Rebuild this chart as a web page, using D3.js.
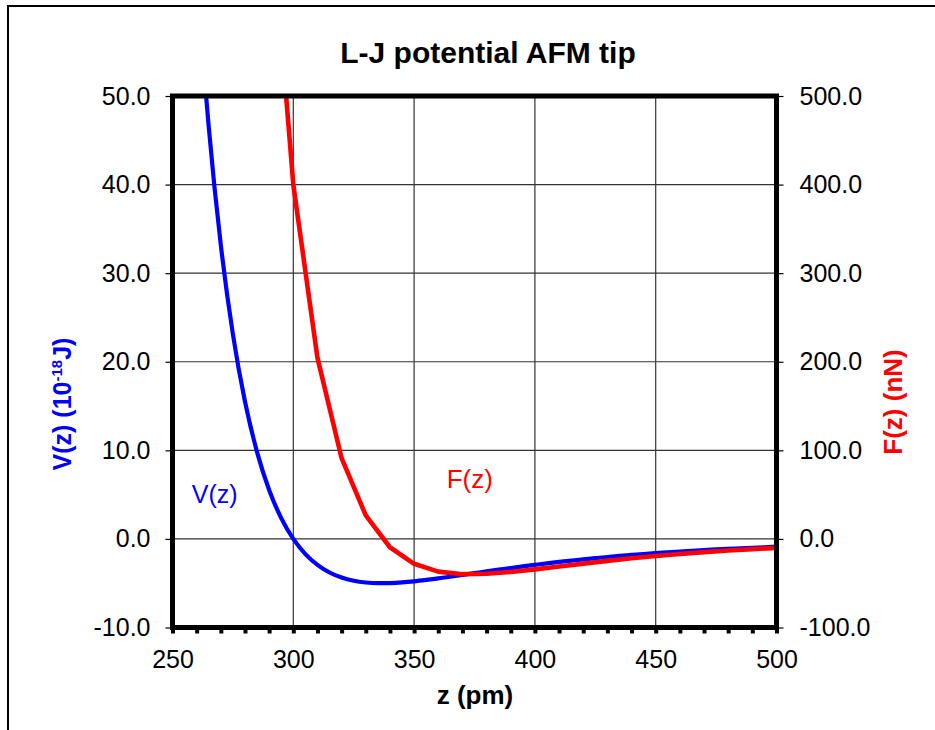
<!DOCTYPE html>
<html>
<head>
<meta charset="utf-8">
<script src="https://cdn.jsdelivr.net/npm/d3@7"></script>
<style>
  body { margin: 0; background: #fff; }
  svg { display: block; font-family: "Liberation Sans", Arial, sans-serif; }
  .tick text { fill: #000; }
</style>
</head>
<body>
<div id="chart"></div>
<script>
// z positions (pm) and values
const zFine = [250, 255, 260, 265, 270, 275, 280, 285, 290, 295,
               300, 305, 310, 315, 320, 325, 330, 335, 340, 345,
               350, 355, 360, 365, 370, 375, 380, 385, 390, 395,
               400, 405, 410, 415, 420, 425, 430, 435, 440, 445,
               450, 455, 460, 465, 470, 475, 480, 485, 490, 495, 500];
// V(z) in 1e-18 J
const vValues = [118.6, 87.58, 64.18, 46.52, 33.18, 23.11, 15.51, 9.80, 5.53, 2.35,
                 0.00, -1.71, -2.93, -3.79, -4.36, -4.72, -4.92, -5.00, -4.98, -4.91,
                 -4.79, -4.63, -4.45, -4.27, -4.07, -3.87, -3.67, -3.47, -3.29, -3.10,
                 -2.93, -2.76, -2.60, -2.45, -2.30, -2.17, -2.04, -1.92, -1.81, -1.70,
                 -1.60, -1.51, -1.42, -1.34, -1.26, -1.19, -1.12, -1.06, -1.00, -0.94, -0.89];

const zCoarse = [250, 260, 270, 280, 290, 300, 310, 320, 330, 340, 350, 360, 370,
                 380, 390, 400, 410, 420, 430, 440, 450, 460, 470, 480, 490, 500];
// F(z) in nN
const fValues = [7126, 4051, 2311, 1313, 736, 400, 204.4, 91.1, 26.5, -9.4, -28.1, -36.9, -39.8,
                 -39.4, -37.3, -34.4, -31.1, -27.9, -24.8, -21.9, -19.3, -17.0, -14.9, -13.1, -11.5, -10.2];

const xTicks = [250, 300, 350, 400, 450, 500];
const vTicks = [-10, 0, 10, 20, 30, 40, 50];
const fTicks = [-100, 0, 100, 200, 300, 400, 500];

const W = 935, H = 730;
const pL = 172.5, pR = 776.5, pT = 96, pB = 627.5;

const svg = d3.select('#chart').append('svg')
    .attr('width', W)
    .attr('height', H);

// outer chart frame (right / bottom edges are cut off)
svg.append('path')
    .attr('d', `M8,${H} L8,6 L${W},6`)
    .attr('fill', 'none')
    .attr('stroke', '#000')
    .attr('stroke-width', 2);

const x = d3.scaleLinear().domain([250, 500]).range([pL, pR]);
const yV = d3.scaleLinear().domain([-10, 50]).range([pB, pT]);
const yF = d3.scaleLinear().domain([-100, 500]).range([pB, pT]);

// grid
const grid = svg.append('g').attr('stroke', '#333').attr('stroke-width', 1.2);
grid.selectAll('line.h')
    .data(vTicks.slice(1, -1))
    .enter()
    .append('line')
    .attr('x1', pL).attr('x2', pR)
    .attr('y1', d => yV(d)).attr('y2', d => yV(d));
grid.selectAll('line.v')
    .data(xTicks.slice(1, -1))
    .enter()
    .append('line')
    .attr('x1', d => x(d)).attr('x2', d => x(d))
    .attr('y1', pT).attr('y2', pB);

// clip for curves
svg.append('defs').append('clipPath')
    .attr('id', 'plotClip')
    .append('rect')
    .attr('x', pL).attr('y', pT)
    .attr('width', pR - pL).attr('height', pB - pT);

const plot = svg.append('g').attr('clip-path', 'url(#plotClip)');

const vLine = d3.line()
    .x((d, i) => x(zFine[i]))
    .y(d => yV(d))
    .curve(d3.curveMonotoneX);

const fLine = d3.line()
    .x((d, i) => x(zCoarse[i]))
    .y(d => yF(d));

plot.append('path')
    .datum(vValues)
    .attr('d', vLine)
    .attr('fill', 'none')
    .attr('stroke', '#0000ff')
    .attr('stroke-width', 4.2)
    .attr('stroke-linejoin', 'round');

plot.append('path')
    .datum(fValues)
    .attr('d', fLine)
    .attr('fill', 'none')
    .attr('stroke', '#ff0000')
    .attr('stroke-width', 4.6)
    .attr('stroke-linejoin', 'round');

// axes
const fmt = d => d3.format('.1f')(d).replace('\u2212', '-');

const axL = svg.append('g')
    .attr('transform', `translate(${pL},0)`)
    .call(d3.axisLeft(yV).tickValues(vTicks).tickFormat(fmt).tickSize(7).tickPadding(15));
const axR = svg.append('g')
    .attr('transform', `translate(${pR},0)`)
    .call(d3.axisRight(yF).tickValues(fTicks).tickFormat(fmt).tickSize(7).tickPadding(16));
const axB = svg.append('g')
    .attr('transform', `translate(0,${pB})`)
    .call(d3.axisBottom(x).tickValues(d3.range(250, 501, 10))
        .tickFormat(d => xTicks.includes(d) ? d : '').tickSize(6).tickPadding(17));

[axL, axR, axB].forEach(a => {
    a.selectAll('.domain').remove();
    a.selectAll('text').attr('font-size', 25);
});
axL.selectAll('.tick line').attr('stroke', '#000').attr('stroke-width', 1.2);
axR.selectAll('.tick line').attr('stroke', '#000').attr('stroke-width', 1.2);
axB.selectAll('.tick line').attr('stroke', '#000').attr('stroke-width', 4);

// frame of plot area drawn over everything
svg.append('rect')
    .attr('x', pL).attr('y', pT)
    .attr('width', pR - pL).attr('height', pB - pT)
    .attr('fill', 'none')
    .attr('stroke', '#000')
    .attr('stroke-width', 5);

// title
svg.append('text')
    .attr('x', 488).attr('y', 63)
    .attr('text-anchor', 'middle')
    .attr('font-size', 30)
    .attr('font-weight', 'bold')
    .text('L-J potential AFM tip');

svg.append('text')
    .attr('x', 475).attr('y', 704)
    .attr('text-anchor', 'middle')
    .attr('font-size', 26)
    .attr('font-weight', 'bold')
    .text('z (pm)');

// y axis titles
const tL = svg.append('text')
    .attr('transform', 'translate(71,404) rotate(-90)')
    .attr('text-anchor', 'middle')
    .attr('font-size', 25)
    .attr('font-weight', 'bold')
    .attr('fill', '#0000ff');
tL.append('tspan').text('V(z) (10');
tL.append('tspan').attr('font-size', 15).attr('dy', -9).text('-18');
tL.append('tspan').attr('dy', 9).text('J)');

svg.append('text')
    .attr('transform', 'translate(902,402) rotate(-90)')
    .attr('text-anchor', 'middle')
    .attr('font-size', 26)
    .attr('font-weight', 'bold')
    .attr('fill', '#ff0000')
    .text('F(z) (nN)');

// in-plot series labels
svg.append('text')
    .attr('x', x(258)).attr('y', yV(4))
    .attr('font-size', 25)
    .attr('fill', '#0000ff')
    .text('V(z)');

svg.append('text')
    .attr('x', x(363.5)).attr('y', yF(57))
    .attr('font-size', 26)
    .attr('fill', '#ff0000')
    .text('F(z)');
</script>
</body>
</html>
